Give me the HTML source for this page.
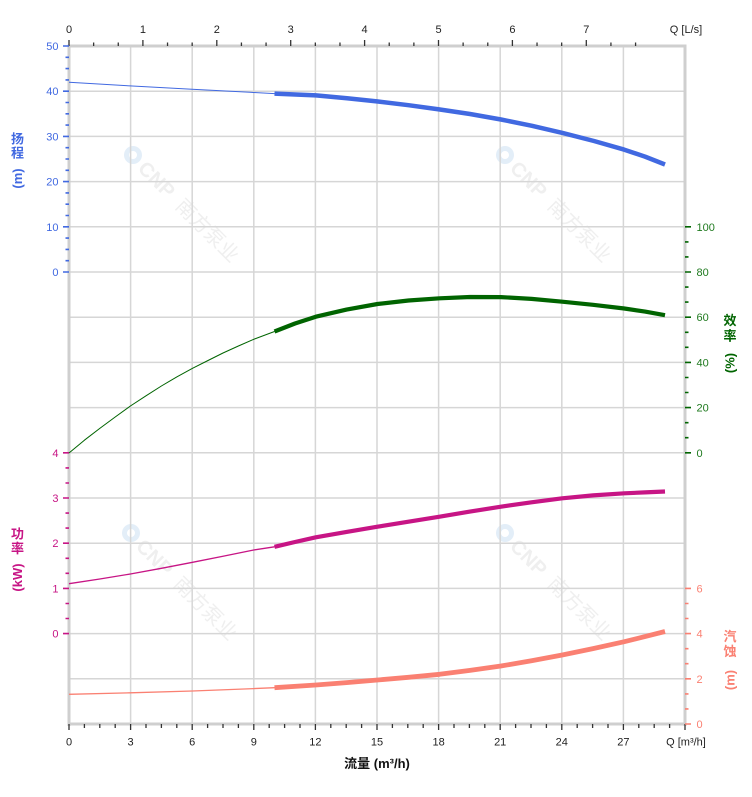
<!DOCTYPE html>
<html><head><meta charset="utf-8"><style>
html,body{margin:0;padding:0;background:#fff;}
svg{display:block;}
text{font-family:"Liberation Sans","Noto Sans CJK SC",sans-serif;}
</style></head><body>
<svg width="752" height="797" viewBox="0 0 752 797" xmlns="http://www.w3.org/2000/svg">
<rect width="752" height="797" fill="#fff"/>

<!-- watermarks -->
<g>
<g transform="translate(133,155) rotate(45)">
<circle cx="0" cy="0" r="9" fill="#e3eef8"/>
<circle cx="0" cy="0" r="4" fill="#fff"/>
<text x="13" y="7.5" font-size="20" font-weight="bold" fill="#efefef">CNP</text>
<text x="66" y="7.5" font-size="20" fill="#efefef">南方泵业</text>
</g>
<g transform="translate(505,155) rotate(45)">
<circle cx="0" cy="0" r="9" fill="#e3eef8"/>
<circle cx="0" cy="0" r="4" fill="#fff"/>
<text x="13" y="7.5" font-size="20" font-weight="bold" fill="#efefef">CNP</text>
<text x="66" y="7.5" font-size="20" fill="#efefef">南方泵业</text>
</g>
<g transform="translate(131,533) rotate(45)">
<circle cx="0" cy="0" r="9" fill="#e3eef8"/>
<circle cx="0" cy="0" r="4" fill="#fff"/>
<text x="13" y="7.5" font-size="20" font-weight="bold" fill="#efefef">CNP</text>
<text x="66" y="7.5" font-size="20" fill="#efefef">南方泵业</text>
</g>
<g transform="translate(505,533) rotate(45)">
<circle cx="0" cy="0" r="9" fill="#e3eef8"/>
<circle cx="0" cy="0" r="4" fill="#fff"/>
<text x="13" y="7.5" font-size="20" font-weight="bold" fill="#efefef">CNP</text>
<text x="66" y="7.5" font-size="20" fill="#efefef">南方泵业</text>
</g>
</g>

<!-- grid -->
<g stroke="#d6d6d6" stroke-width="1.5" fill="none">
<path d="M69 91.2H685 M69 136.4H685 M69 181.6H685 M69 226.8H685 M69 272H685 M69 317.2H685 M69 362.4H685 M69 407.6H685 M69 452.8H685 M69 498H685 M69 543.2H685 M69 588.4H685 M69 633.6H685 M69 678.8H685"/>
<path d="M130.6 46V724 M192.2 46V724 M253.8 46V724 M315.4 46V724 M377 46V724 M438.6 46V724 M500.2 46V724 M561.8 46V724 M623.4 46V724"/>
</g>
<!-- axes frame -->
<g stroke="#cfcfcf" stroke-width="3" fill="none">
<path d="M69 46V726 M685 46V726 M67.5 46H686.5 M67.5 724H686.5"/>
</g>

<!-- top ticks -->
<g stroke="#333" stroke-width="1.3">
<path d="M69 40V46 M142.9 40V46 M216.8 40V46 M290.7 40V46 M364.6 40V46 M438.5 40V46 M512.4 40V46 M586.3 40V46"/>
<path d="M93.63 42.5V46 M118.27 42.5V46 M167.53 42.5V46 M192.17 42.5V46 M241.43 42.5V46 M266.07 42.5V46 M315.33 42.5V46 M339.97 42.5V46 M389.23 42.5V46 M413.87 42.5V46 M463.13 42.5V46 M487.77 42.5V46 M537.03 42.5V46 M561.67 42.5V46 M610.93 42.5V46 M635.57 42.5V46"/>
</g>
<!-- bottom ticks -->
<g stroke="#333" stroke-width="1.3">
<path d="M69 724V730 M130.6 724V730 M192.2 724V730 M253.8 724V730 M315.4 724V730 M377 724V730 M438.6 724V730 M500.2 724V730 M561.8 724V730 M623.4 724V730 M685 724V730"/>
<path d="M84.4 724V728 M99.8 724V728 M115.2 724V728 M146 724V728 M161.4 724V728 M176.8 724V728 M207.6 724V728 M223 724V728 M238.4 724V728 M269.2 724V728 M284.6 724V728 M300 724V728 M330.8 724V728 M346.2 724V728 M361.6 724V728 M392.4 724V728 M407.8 724V728 M423.2 724V728 M454 724V728 M469.4 724V728 M484.8 724V728 M515.6 724V728 M531 724V728 M546.4 724V728 M577.2 724V728 M592.6 724V728 M608 724V728 M638.8 724V728 M654.2 724V728 M669.6 724V728"/>
</g>

<!-- head ticks (left) -->
<g stroke="#4169E1" stroke-width="1.6">
<path d="M63 46H69 M63 91.2H69 M63 136.4H69 M63 181.6H69 M63 226.8H69 M63 272H69"/>
<path d="M65.5 57.3H69 M65.5 68.6H69 M65.5 79.9H69 M65.5 102.5H69 M65.5 113.8H69 M65.5 125.1H69 M65.5 147.7H69 M65.5 159H69 M65.5 170.3H69 M65.5 192.9H69 M65.5 204.2H69 M65.5 215.5H69 M65.5 238.1H69 M65.5 249.4H69 M65.5 260.7H69"/>
</g>
<!-- power ticks (left) -->
<g stroke="#C71585" stroke-width="1.6">
<path d="M63 452.8H69 M63 498H69 M63 543.2H69 M63 588.4H69 M63 633.6H69"/>
<path d="M65.5 467.9H69 M65.5 483H69 M65.5 513.1H69 M65.5 528.1H69 M65.5 558.3H69 M65.5 573.3H69 M65.5 603.5H69 M65.5 618.5H69"/>
</g>
<!-- efficiency ticks (right) -->
<g stroke="#006400" stroke-width="1.6">
<path d="M685 226.8H691 M685 272H691 M685 317.2H691 M685 362.4H691 M685 407.6H691 M685 452.8H691"/>
<path d="M685 241.9H688.5 M685 256.9H688.5 M685 287.1H688.5 M685 302.1H688.5 M685 332.3H688.5 M685 347.3H688.5 M685 377.5H688.5 M685 392.5H688.5 M685 422.7H688.5 M685 437.7H688.5"/>
</g>
<!-- npsh ticks (right) -->
<g stroke="#FA8072" stroke-width="1.6">
<path d="M685 588.4H691 M685 633.6H691 M685 678.8H691 M685 724H691"/>
<path d="M685 603.5H688.5 M685 618.5H688.5 M685 648.7H688.5 M685 663.7H688.5 M685 693.9H688.5 M685 708.9H688.5"/>
</g>

<!-- top labels -->
<g font-size="11" fill="#222" text-anchor="middle">
<text x="69" y="33">0</text><text x="142.9" y="33">1</text><text x="216.8" y="33">2</text><text x="290.7" y="33">3</text><text x="364.6" y="33">4</text><text x="438.5" y="33">5</text><text x="512.4" y="33">6</text><text x="586.3" y="33">7</text>
<text x="686" y="33">Q [L/s]</text>
</g>
<!-- bottom labels -->
<g font-size="11" fill="#222" text-anchor="middle">
<text x="69" y="745.5">0</text><text x="130.6" y="745.5">3</text><text x="192.2" y="745.5">6</text><text x="253.8" y="745.5">9</text><text x="315.4" y="745.5">12</text><text x="377" y="745.5">15</text><text x="438.6" y="745.5">18</text><text x="500.2" y="745.5">21</text><text x="561.8" y="745.5">24</text><text x="623.4" y="745.5">27</text>
<text x="686" y="745.5">Q [m³/h]</text>
</g>
<text x="377" y="768" font-size="13" font-weight="bold" fill="#111" text-anchor="middle">流量 (m³/h)</text>

<!-- head labels -->
<g font-size="11" fill="#4169E1" text-anchor="end">
<text x="58.5" y="50">50</text><text x="58.5" y="95.2">40</text><text x="58.5" y="140.4">30</text><text x="58.5" y="185.6">20</text><text x="58.5" y="230.8">10</text><text x="58.5" y="276">0</text>
</g>
<!-- power labels -->
<g font-size="11" fill="#C71585" text-anchor="end">
<text x="58.5" y="456.8">4</text><text x="58.5" y="502">3</text><text x="58.5" y="547.2">2</text><text x="58.5" y="592.4">1</text><text x="58.5" y="637.6">0</text>
</g>
<!-- efficiency labels -->
<g font-size="11" fill="#1f7a1f" text-anchor="start">
<text x="696.5" y="230.8">100</text><text x="696.5" y="276">80</text><text x="696.5" y="321.2">60</text><text x="696.5" y="366.4">40</text><text x="696.5" y="411.6">20</text><text x="696.5" y="456.8">0</text>
</g>
<!-- npsh labels -->
<g font-size="11" fill="#FA8072" text-anchor="start">
<text x="696.5" y="592.4">6</text><text x="696.5" y="637.6">4</text><text x="696.5" y="682.8">2</text><text x="696.5" y="728">0</text>
</g>

<!-- axis titles -->
<g font-size="13" font-weight="bold" text-anchor="middle">
<g fill="#4169E1">
<text x="17.5" y="143.5">扬</text><text x="17.5" y="157.5">程</text>
<text transform="translate(17.5,178.5) rotate(-90)" y="4.5">(m)</text>
</g>
<g fill="#C71585">
<text x="17.5" y="538.5">功</text><text x="17.5" y="553">率</text>
<text transform="translate(17.5,577.5) rotate(-90)" y="4.5">(kW)</text>
</g>
<g fill="#006400">
<text x="730" y="325">效</text><text x="730" y="340.5">率</text>
<text transform="translate(730,363) rotate(-90)" y="4.5">(%)</text>
</g>
<g fill="#FA8072">
<text x="730" y="641">汽</text><text x="730" y="656">蚀</text>
<text transform="translate(730,680) rotate(-90)" y="4.5">(m)</text>
</g>
</g>

<!-- curves -->
<g fill="none" stroke-linejoin="round" stroke-linecap="butt">
<!-- head -->
<polyline stroke="#4169E1" stroke-width="1" points="69,82.3 130,85.9 192,89.3 250,92.3 274.5,93.6"/>
<polyline stroke="#4169E1" stroke-width="4.5" points="274.5,93.6 316,95.4 347,98.2 378,101.5 408.5,105.2 439,109.4 470,114 501,119.5 532,125.8 563,133.1 594,141 624,149.6 645,156.6 665,164.5"/>
<!-- efficiency -->
<polyline stroke="#006400" stroke-width="1" points="69,453 84.4,440.2 99.8,428.4 115.2,417 130.4,406 146,395.8 161.4,386 177,376.8 192.5,368.3 208,360.5 223,353 238.4,346 253.7,339.3 274.5,331.5"/>
<polyline stroke="#006400" stroke-width="4.2" points="274.5,331.5 295,323.5 315.8,316.7 346.6,309.6 377.5,304 408.5,300.5 439.6,298.3 470,297 500.9,297.1 531.5,298.9 562.2,301.7 593,304.8 624.3,308.5 645,311.6 665,315.2"/>
<!-- power -->
<polyline stroke="#C71585" stroke-width="1.3" points="69,583.7 99.8,579 130.4,574 161.4,568.3 192.5,562.3 223,556.2 253.7,550 274.5,546.8"/>
<polyline stroke="#C71585" stroke-width="4.2" points="274.5,546.8 295,542 315.8,537.3 346.6,531.9 377.5,526.7 408.5,521.7 439.6,516.7 470,511.6 500.9,506.7 531.5,502.3 562.2,498.3 593,495.4 624.3,493.3 645,492.4 665,491.5"/>
<!-- npsh -->
<polyline stroke="#FA8072" stroke-width="1.3" points="69,694.3 130.4,692.8 192.5,691 253.7,688.6 274.5,687.7"/>
<polyline stroke="#FA8072" stroke-width="4.8" points="274.5,687.7 315.8,685 346.6,682.6 377.5,680 408.5,677.3 439.6,674.3 470,670.4 500.9,666 531.5,660.8 562.2,655 593,648.6 624.3,641.7 645,636.6 665,631.5"/>
</g>
</svg>
</body></html>
